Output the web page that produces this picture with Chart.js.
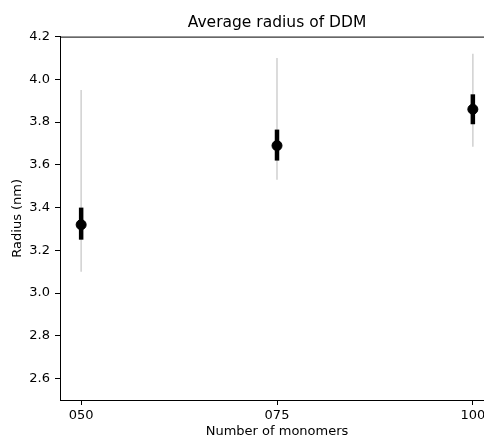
<!DOCTYPE html>
<html>
<head>
<meta charset="utf-8">
<script src="https://cdn.jsdelivr.net/npm/chart.js@4"></script>
<style>
  html, body { margin: 0; padding: 0; background: #fff; overflow: hidden; }
  #wrap { width: 500px; height: 439px; }
</style>
</head>
<body>
<div id="wrap"><canvas id="myChart1"></canvas></div>
<script>
// data
const monomers = [50, 75, 100];
const meanRadius = [3.32, 3.69, 3.86];
const innerLow = [3.25, 3.62, 3.79];
const innerHigh = [3.40, 3.765, 3.93];
const outerLow = [3.10, 3.53, 3.685];
const outerHigh = [3.95, 4.10, 4.12];
const yTicks = [2.6, 2.8, 3.0, 3.2, 3.4, 3.6, 3.8, 4.0, 4.2];

const font = "'DejaVu Sans', sans-serif";

// error bars + top spine
const errorBars = {
    id: 'errorBars',
    beforeDatasetsDraw(chart) {
        const { ctx, scales: { x, y } } = chart;
        ctx.save();
        ctx.lineCap = 'butt';
        monomers.forEach((m, i) => {
            const px = x.getPixelForValue(m);
            ctx.strokeStyle = '#d3d3d3';
            ctx.lineWidth = 1.6;
            ctx.beginPath();
            ctx.moveTo(px, y.getPixelForValue(outerLow[i]));
            ctx.lineTo(px, y.getPixelForValue(outerHigh[i]));
            ctx.stroke();
            ctx.strokeStyle = '#000';
            ctx.lineWidth = 4.5;
            ctx.beginPath();
            ctx.moveTo(px, y.getPixelForValue(innerLow[i]));
            ctx.lineTo(px, y.getPixelForValue(innerHigh[i]));
            ctx.stroke();
        });
        ctx.restore();
    },
    afterDraw(chart) {
        const { ctx, chartArea } = chart;
        ctx.save();
        ctx.strokeStyle = '#000';
        ctx.lineWidth = 1;
        ctx.beginPath();
        ctx.moveTo(chartArea.left, chartArea.top + 0.5);
        ctx.lineTo(chartArea.right, chartArea.top + 0.5);
        ctx.stroke();
        ctx.restore();
    }
};

var myChart1 = new Chart(document.getElementById('myChart1').getContext('2d'), {
    type: 'scatter',
    data: {
        datasets: [{
            data: monomers.map((m, i) => ({ x: m, y: meanRadius[i] })),
            backgroundColor: '#000',
            borderColor: '#000',
            pointRadius: 5,
            pointHoverRadius: 5
        }]
    },
    options: {
        responsive: true,
        maintainAspectRatio: false,
        animation: false,
        layout: { padding: { top: 0, right: 2, bottom: 0, left: 0 } },
        plugins: {
            legend: { display: false },
            tooltip: { enabled: false },
            title: {
                display: true,
                text: 'Average radius of DDM',
                fullSize: false,
                color: '#000',
                font: { family: font, size: 15.5, weight: 'normal' },
                padding: { top: 14, bottom: 4 }
            }
        },
        scales: {
            x: {
                type: 'linear',
                min: 47.3,
                max: 102.7,
                afterBuildTicks: s => { s.ticks = monomers.map(v => ({ value: v })); },
                afterFit: s => { s.height = 39; },
                ticks: {
                    color: '#000',
                    padding: 3,
                    font: { family: font, size: 13 },
                    callback: v => String(v).padStart(3, '0')
                },
                grid: { drawOnChartArea: false, tickLength: 5, color: '#000' },
                border: { display: true, color: '#000', width: 1 },
                title: {
                    display: true,
                    text: 'Number of monomers',
                    color: '#000',
                    font: { family: font, size: 13 },
                    padding: { top: 0, bottom: 0 }
                }
            },
            y: {
                min: 2.5,
                max: 4.2,
                afterBuildTicks: s => { s.ticks = yTicks.map(v => ({ value: v })); },
                afterFit: s => { s.width = 60; },
                ticks: {
                    color: '#000',
                    padding: 5,
                    font: { family: font, size: 13 },
                    callback: v => v.toFixed(1)
                },
                grid: { drawOnChartArea: false, tickLength: 5, color: '#000' },
                border: { display: true, color: '#000', width: 1 },
                title: {
                    display: true,
                    text: 'Radius (nm)',
                    color: '#000',
                    font: { family: font, size: 13 },
                    padding: { top: 10, bottom: 0 }
                }
            }
        }
    },
    plugins: [errorBars]
});
</script>
</body>
</html>
